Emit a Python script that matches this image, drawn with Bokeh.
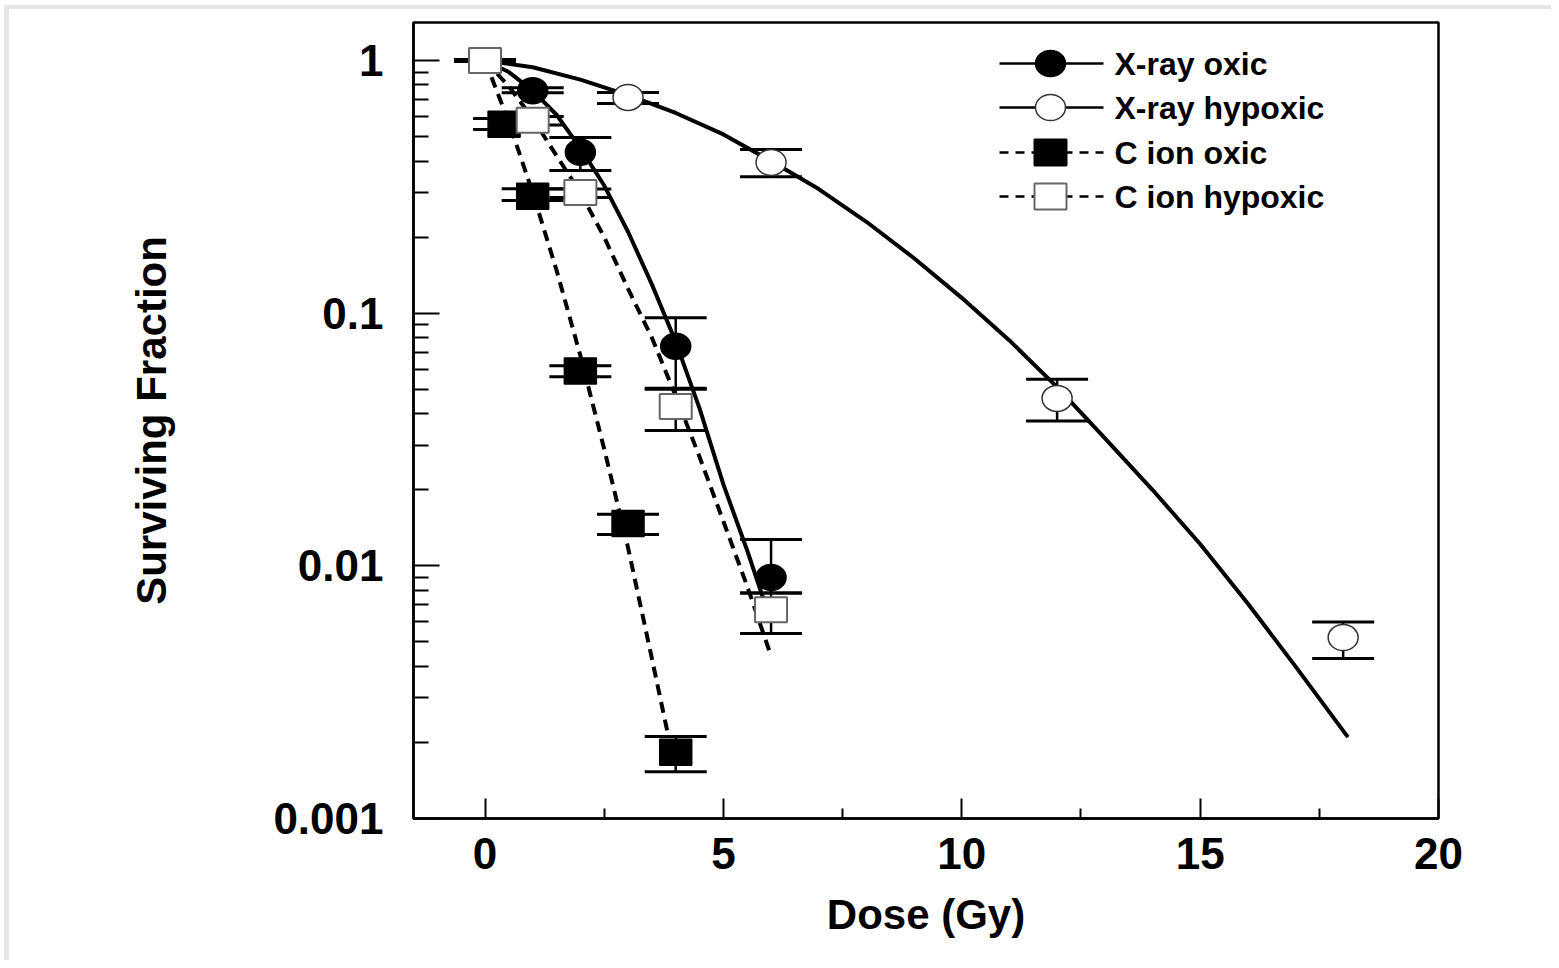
from bokeh.plotting import figure
from bokeh.models import FixedTicker, Range1d, LinearScale
from bokeh.embed import file_html
from bokeh.resources import INLINE
from bokeh.core.properties import value

FONT = "Liberation Sans"

# ---------------- data ----------------
# X-ray oxic (filled circles)
xo_dose = [1, 2, 4, 6]
xo_sf = [0.76, 0.433, 0.074, 0.009]
xo_hi = [0.78, 0.496, 0.096, 0.0127]
xo_lo = [0.745, 0.367, 0.050, 0.0078]

# X-ray hypoxic (open circles)
xh_dose = [3, 6, 12, 18]
xh_sf = [0.714, 0.395, 0.046, 0.0052]
xh_hi = [0.747, 0.444, 0.0548, 0.0060]
xh_lo = [0.676, 0.347, 0.0374, 0.0043]

# C ion oxic (filled squares)
co_dose = [0.4, 1, 2, 3, 4]
co_sf = [0.56, 0.29, 0.059, 0.0147, 0.00183]
co_hi = [0.59, 0.311, 0.062, 0.0160, 0.00211]
co_lo = [0.533, 0.279, 0.056, 0.0133, 0.00153]

# C ion hypoxic (open squares)
ch_dose = [0, 1, 2, 4, 6]
ch_sf = [1.0, 0.58, 0.30, 0.0427, 0.0067]
ch_hi = [1.01, 0.60, 0.31, 0.0504, 0.0078]
ch_lo = [0.99, 0.555, 0.287, 0.0343, 0.0054]

# fitted curves
xo_curve_d = [0, 0.5, 1, 1.5, 2, 2.5, 3, 3.5, 4, 4.5, 5, 5.5, 6]
xo_curve_sf = [1.0, 0.9, 0.76, 0.61, 0.45, 0.32, 0.21, 0.13, 0.077, 0.042, 0.021, 0.0115, 0.0060]

xh_curve_d = [0, 1, 2, 3, 4, 5, 6, 7, 8, 9, 10, 11, 12, 13, 14, 15, 16, 17, 18.1]
xh_curve_sf = [1.0, 0.94, 0.84, 0.73, 0.62, 0.51, 0.40, 0.31, 0.23, 0.165, 0.115,
               0.078, 0.051, 0.032, 0.020, 0.0122, 0.0071, 0.0040, 0.0021]

co_curve_d = [0, 0.5, 1, 1.5, 2, 2.5, 3, 3.5, 3.85]
co_curve_sf = [1.0, 0.57, 0.30, 0.148, 0.068, 0.029, 0.0118, 0.0043, 0.0021]

ch_curve_d = [0, 0.5, 1, 1.5, 2, 2.5, 3, 3.5, 4, 4.5, 5, 5.5, 6]
ch_curve_sf = [1.0, 0.79, 0.59, 0.42, 0.30, 0.20, 0.125, 0.08, 0.047, 0.027, 0.015, 0.0083, 0.0044]

series_names = ["X-ray oxic", "X-ray hypoxic", "C ion oxic", "C ion hypoxic"]

x_ticks = [0, 5, 10, 15, 20]
x_tick_labels = ["0", "5", "10", "15", "20"]
x_minor = [2.5, 7.5, 12.5, 17.5]
y_ticks = [0.001, 0.01, 0.1, 1]
y_tick_labels = ["0.001", "0.01", "0.1", "1"]
y_minor = [0.002, 0.003, 0.004, 0.005, 0.006, 0.007, 0.008, 0.009,
           0.02, 0.03, 0.04, 0.05, 0.06, 0.07, 0.08, 0.09,
           0.2, 0.3, 0.4, 0.5, 0.6, 0.7, 0.8, 0.9]

# ---------------- figure ----------------
p = figure(width=1551, height=960, x_range=Range1d(-1.5, 20), y_range=Range1d(0.001, 1.414),
           y_axis_type="log", output_backend="svg", toolbar_location=None,
           min_border_left=413, min_border_right=113, min_border_top=22, min_border_bottom=142)
p.styles = {"box-shadow": "inset 4px 5px 0 0 white, inset 9px 9px 0 0 #e6e6e6"}
p.grid.visible = False
p.background_fill_color = "white"
p.border_fill_color = None
p.outline_line_color = "black"
p.outline_line_width = 2.5

p.xaxis.ticker = FixedTicker(ticks=x_ticks, minor_ticks=x_minor)
p.xaxis.major_label_overrides = dict(zip(x_ticks, x_tick_labels))
p.yaxis.ticker = FixedTicker(ticks=y_ticks, minor_ticks=y_minor)
p.yaxis.major_label_overrides = dict(zip(y_ticks, y_tick_labels))

for ax in (p.xaxis[0], p.yaxis[0]):
    ax.axis_line_color = "black"
    ax.axis_line_width = 2.5
    ax.major_tick_line_color = "black"
    ax.minor_tick_line_color = "black"
    ax.major_tick_line_width = 2
    ax.minor_tick_line_width = 2
    ax.major_tick_out = 0
    ax.minor_tick_out = 0
    ax.major_label_text_font = FONT
    ax.major_label_text_font_style = "bold"
    ax.major_label_text_font_size = "44px"
    ax.major_label_text_color = "black"
    ax.axis_label_text_font = FONT
    ax.axis_label_text_font_style = "bold"
    ax.axis_label_text_font_size = "42px"
    ax.axis_label_text_color = "black"

p.xaxis.major_tick_in = 20
p.xaxis.minor_tick_in = 10
p.xaxis.major_label_standoff = 19
p.xaxis.axis_label = "Dose (Gy)"
p.xaxis.axis_label_standoff = 19

p.yaxis.major_tick_in = 26
p.yaxis.minor_tick_in = 15
p.yaxis.major_label_standoff = 30
p.yaxis.axis_label = "Surviving Fraction"
p.yaxis.axis_label_standoff = 95

# ---------------- curves ----------------
p.line(xh_curve_d, xh_curve_sf, line_color="black", line_width=4)
p.line(xo_curve_d, xo_curve_sf, line_color="black", line_width=4)
p.line(co_curve_d, co_curve_sf, line_color="black", line_width=4, line_dash="11 7")
p.line(ch_curve_d, ch_curve_sf, line_color="black", line_width=4, line_dash="11 7")

# ---------------- error bars ----------------
for d, hi, lo in ((xh_dose, xh_hi, xh_lo), (xo_dose, xo_hi, xo_lo),
                  (co_dose, co_hi, co_lo), (ch_dose, ch_hi, ch_lo)):
    p.segment(x0=d, y0=lo, x1=d, y1=hi, line_color="black", line_width=2.5)
    p.scatter(d, hi, marker="dash", size=62, line_color="black", line_width=3)
    p.scatter(d, lo, marker="dash", size=62, line_color="black", line_width=3)

# ---------------- markers ----------------
p.ellipse(xh_dose, xh_sf, width=30, height=26, width_units="screen", height_units="screen",
          fill_color="white", line_color="#333333", line_width=1.5)
p.ellipse(xo_dose, xo_sf, width=30, height=26, width_units="screen", height_units="screen",
          fill_color="black", line_color="black", line_width=1.5)
p.rect(co_dose, co_sf, width=32, height=26, width_units="screen", height_units="screen",
       fill_color="black", line_color="black", line_width=1.5)
p.rect(ch_dose, ch_sf, width=32, height=25, width_units="screen", height_units="screen",
       fill_color="white", line_color="#666666", line_width=2)

# ---------------- legend (drawn in frame pixel coordinates) ----------------
p.extra_x_ranges = {"lx": Range1d(0, 1025)}
p.extra_y_ranges = {"ly": Range1d(0, 796)}
p.extra_y_scales = {"ly": LinearScale()}

row_y = [755, 711, 666, 622]
lx0, lx1, lmx, ltx = 586, 690, 637, 701
styles = [("solid", "ellipse", "black", "black"),
          ("solid", "ellipse", "white", "#333333"),
          ("9 7", "rect", "black", "black"),
          ("9 7", "rect", "white", "#666666")]
for ry, name, (dash, shape, fc, lc) in zip(row_y, series_names, styles):
    p.segment(x0=[lx0], y0=[ry], x1=[lx1], y1=[ry], line_color="black", line_width=2.5,
              line_dash=dash, x_range_name="lx", y_range_name="ly")
    if shape == "ellipse":
        p.ellipse([lmx], [ry], width=30, height=26, width_units="screen", height_units="screen",
                  fill_color=fc, line_color=lc, line_width=1.5, x_range_name="lx", y_range_name="ly")
    else:
        p.rect([lmx], [ry], width=32, height=26, width_units="screen", height_units="screen",
               fill_color=fc, line_color=lc, line_width=2, x_range_name="lx", y_range_name="ly")
    p.text([ltx], [ry], text=[name], text_font=value(FONT), text_font_style="bold",
           text_font_size="32px", text_baseline="middle", text_align="left", text_color="black",
           x_range_name="lx", y_range_name="ly")

open("out.html", "w").write(file_html(p, INLINE))
